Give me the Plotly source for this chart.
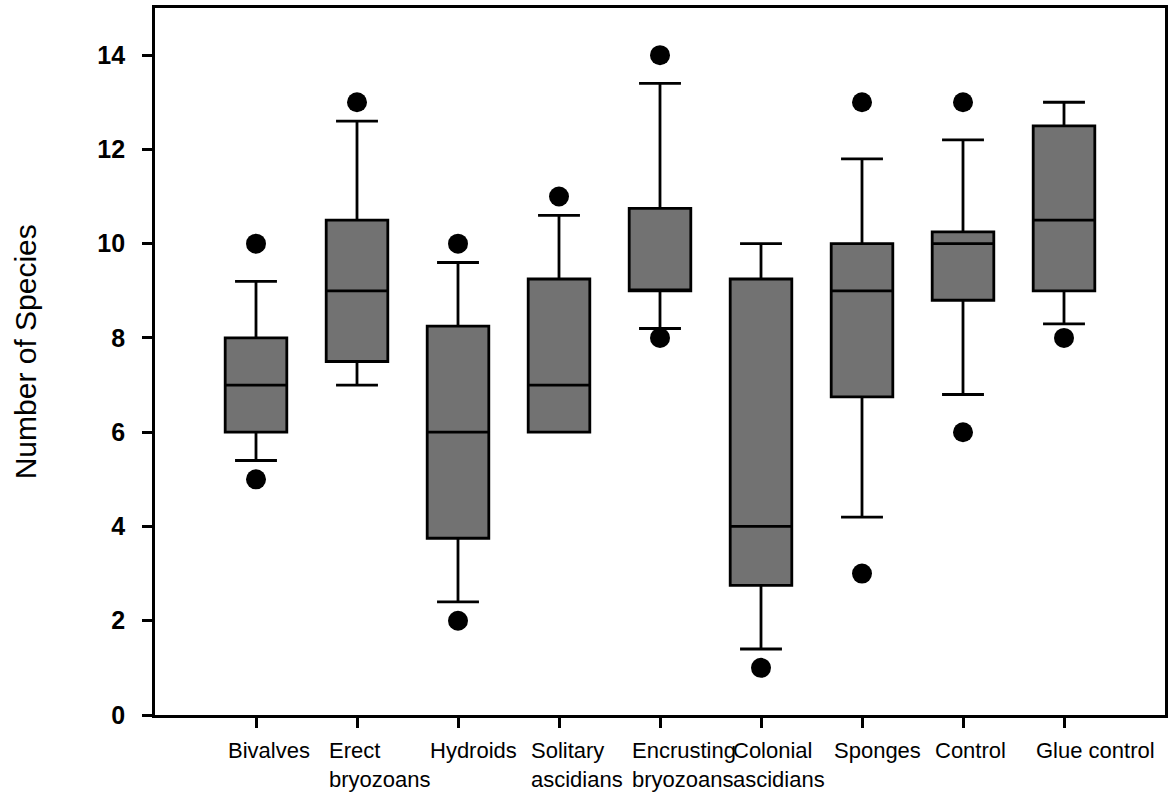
import plotly.graph_objects as go

categories = ["Bivalves", "Erect bryozoans", "Hydroids", "Solitary ascidians",
              "Encrusting bryozoans", "Colonial ascidians", "Sponges", "Control",
              "Glue control"]
tick_labels = ["Bivalves", "Erect<br>bryozoans", "Hydroids", "Solitary<br>ascidians",
               "Encrusting<br>bryozoans", "Colonial<br>ascidians", "Sponges", "Control",
               "Glue control"]

q1 = [6.0, 7.5, 3.75, 6.0, 9.0, 2.75, 6.75, 8.8, 9.0]
median = [7.0, 9.0, 6.0, 7.0, 9.0, 4.0, 9.0, 10.0, 10.5]
q3 = [8.0, 10.5, 8.25, 9.25, 10.75, 9.25, 10.0, 10.25, 12.5]
whisker_low = [5.4, 7.0, 2.4, 6.0, 8.2, 1.4, 4.2, 6.8, 8.3]
whisker_high = [9.2, 12.6, 9.6, 10.6, 13.4, 10.0, 11.8, 12.2, 13.0]

outlier_cat = ["Bivalves", "Bivalves", "Erect bryozoans", "Hydroids", "Hydroids",
               "Solitary ascidians", "Encrusting bryozoans", "Encrusting bryozoans",
               "Colonial ascidians", "Sponges", "Sponges", "Control", "Control",
               "Glue control"]
outlier_val = [5, 10, 13, 2, 10, 11, 8, 14, 1, 3, 13, 6, 13, 8]

y_ticks = [0, 2, 4, 6, 8, 10, 12, 14]

FONT = "Arial, Liberation Sans, sans-serif"

fig = go.Figure()
fig.add_trace(go.Box(
    x=categories, q1=q1, median=median, q3=q3,
    lowerfence=whisker_low, upperfence=whisker_high,
    boxpoints=False, width=0.61, whiskerwidth=0.68,
    fillcolor="#727272", line=dict(color="black", width=2.8),
    showlegend=False, hoverinfo="skip",
))
fig.add_trace(go.Scatter(
    x=outlier_cat, y=outlier_val, mode="markers",
    marker=dict(color="black", size=20, line=dict(width=0)),
    showlegend=False, hoverinfo="skip",
))

for cat, lab in zip(categories, tick_labels):
    fig.add_annotation(
        x=cat, xref="x", y=0, yref="paper", text=lab,
        xanchor="left", yanchor="top", align="left",
        xshift=-30, yshift=-21, showarrow=False,
        font=dict(family=FONT, size=22, color="black"),
    )

fig.add_annotation(
    x=-0.128, xref="paper", y=0.514, yref="paper",
    text="Number of Species", textangle=-90, showarrow=False,
    xanchor="center", yanchor="middle",
    font=dict(family=FONT, size=30, color="black"),
)

fig.update_layout(
    width=1172, height=792,
    margin=dict(l=155, r=4, t=8, b=77),
    paper_bgcolor="white", plot_bgcolor="white",
    font=dict(family=FONT, color="black"),
)
fig.update_xaxes(
    type="category", categoryorder="array", categoryarray=categories,
    range=[-1.0, 9.0], showticklabels=False,
    ticks="outside", ticklen=10, tickwidth=2.5, tickcolor="black",
    showline=True, linecolor="black", linewidth=2.8, mirror=True,
    showgrid=False, zeroline=False,
)
fig.update_yaxes(
    range=[0, 15], tickvals=y_ticks,
    ticks="outside", ticklen=10, tickwidth=2.5, tickcolor="black",
    tickfont=dict(family=FONT, size=25, color="black", weight="bold"),
    ticklabelstandoff=12,
    showline=True, linecolor="black", linewidth=2.8, mirror=True,
    showgrid=False, zeroline=False,
)

fig.write_html("out.html")
